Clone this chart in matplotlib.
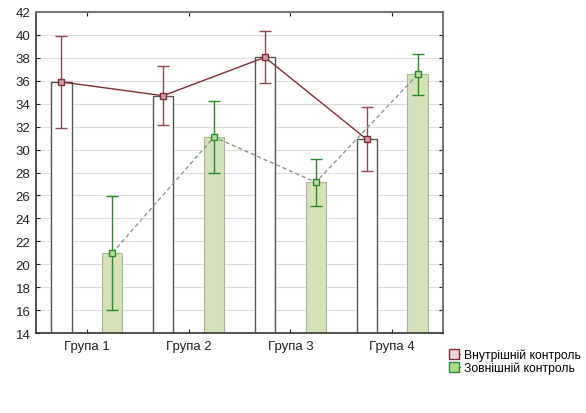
import numpy as np
import matplotlib.pyplot as plt
from matplotlib.lines import Line2D

plt.rcParams['font.family'] = ['Liberation Sans', 'DejaVu Sans']

# дані
groups = ['Група 1', 'Група 2', 'Група 3', 'Група 4']
inner_mean = [35.9, 34.7, 38.05, 30.9]
inner_err = [4.05, 2.55, 2.25, 2.8]
outer_mean = [21.0, 31.1, 27.15, 36.55]
outer_err = [4.95, 3.1, 2.05, 1.75]
series_names = ['Внутрішній контроль', 'Зовнішній контроль']
y_ticks = list(range(14, 43, 2))

x = np.arange(len(groups))
shift = 0.25
width = 0.2

fig = plt.figure(figsize=(5.86, 4.14), dpi=100)
fig.patch.set_facecolor('white')
ax = fig.add_axes([0.0614, 0.193, 0.6946, 0.7756])

ax.set_axisbelow(True)
ax.yaxis.grid(True, color='#dcdcdc', linewidth=0.8)

# стовпчики
ax.bar(x - shift, inner_mean, width, bottom=0, color='white',
       edgecolor='#555555', linewidth=1.0, zorder=2)
ax.bar(x + shift, outer_mean, width, bottom=0, color='#d5e1b6',
       edgecolor='#a8b894', linewidth=0.8, zorder=2)

# лінії з похибками
ax.errorbar(x - shift, inner_mean, yerr=inner_err, color='#7d2e35',
            ecolor='#8a4a50', elinewidth=1.0, capsize=4, capthick=1.0,
            linewidth=1.0, marker='s', markersize=4.5,
            markerfacecolor='#d89aa4', markeredgecolor='#7d2e35', zorder=4)
ax.errorbar(x + shift, outer_mean, yerr=outer_err, color='#8a998a',
            linestyle=(0, (3, 2)), ecolor='#2b8a2b', elinewidth=1.0,
            capsize=4, capthick=1.0, linewidth=1.0, marker='s', markersize=4.5,
            markerfacecolor='#b6dca0', markeredgecolor='#2b8a2b', zorder=4)

ax.set_xlim(-0.5, 3.5)
ax.set_ylim(14, 42)
ax.set_yticks(y_ticks)
ax.set_xticks(x)
ax.set_xticklabels(groups)
ax.tick_params(axis='both', labelsize=9.5, colors='#222222', length=3)
ax.tick_params(axis='x', top=True, direction='in', pad=5)
ax.tick_params(axis='y', left=True, length=0, pad=4)
ax.tick_params(axis='y', right=True, direction='in', length=3)

for side in ['top', 'right']:
    ax.spines[side].set_color('#777777')
    ax.spines[side].set_linewidth(1.5)
for side in ['left', 'bottom']:
    ax.spines[side].set_color('#333333')
    ax.spines[side].set_linewidth(1.2)

handles = [
    Line2D([], [], color='#7d2e35', linewidth=0.8, marker='s', markersize=7,
           markerfacecolor='#ecd4d8', markeredgecolor='#7d2e35'),
    Line2D([], [], color='#2b8a2b', linewidth=0.8, marker='s', markersize=7,
           markerfacecolor='#a8dc8c', markeredgecolor='#2b8a2b'),
]
fig.legend(handles, series_names, loc='upper left',
           bbox_to_anchor=(0.758, 0.168), frameon=False, fontsize=8.7,
           handlelength=0.9, handletextpad=0.3, labelspacing=0.1,
           borderaxespad=0)

plt.savefig('out.png', dpi=100, facecolor='white')
plt.close()
